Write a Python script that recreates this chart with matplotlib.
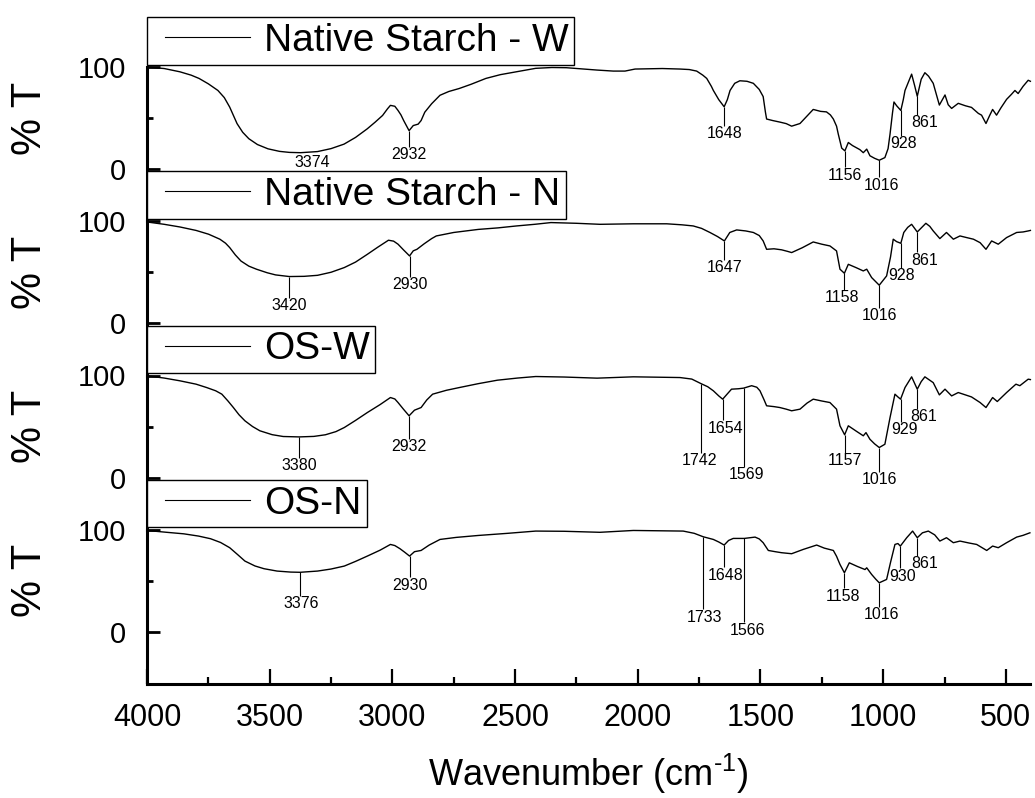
import matplotlib.pyplot as plt
import matplotlib.transforms as mtransforms
from matplotlib.legend_handler import HandlerLine2D
import numpy as np

plt.rcParams['font.family'] = ['Liberation Sans', 'DejaVu Sans']
plt.rcParams['mathtext.fontset'] = 'custom'
plt.rcParams['mathtext.rm'] = 'Liberation Sans'

# FTIR spectra: wavenumber (cm-1) and transmittance (%)
ns_w_wn = [4000, 3930, 3866, 3820, 3788, 3750, 3711, 3685, 3663, 3645, 3633, 3610, 3585, 3550,
           3507, 3460, 3420, 3374, 3305, 3250, 3197, 3150, 3103, 3070, 3040, 3020, 3008, 2990,
           2977, 2965, 2954, 2932, 2915, 2895, 2883, 2868, 2840, 2806, 2770, 2728, 2680, 2619,
           2560, 2494, 2416, 2350, 2291, 2220, 2166, 2100, 2052, 2011, 1900, 1828, 1790, 1760,
           1735, 1719, 1700, 1692, 1670, 1648, 1635, 1624, 1605, 1584, 1555, 1529, 1505, 1489,
           1480, 1475, 1450, 1421, 1395, 1373, 1339, 1310, 1285, 1255, 1231, 1215, 1203, 1190,
           1183, 1169, 1156, 1142, 1125, 1110, 1095, 1081, 1067, 1054, 1035, 1016, 993, 980,
           972, 962, 956, 945, 928, 918, 911, 896, 884, 872, 861, 845, 830, 815, 796, 771,
           748, 735, 721, 694, 665, 640, 612, 599, 581, 567, 554, 538, 520, 497, 478, 463,
           450, 430, 409, 400]
ns_w_t = [100, 98.5, 95.3, 92, 88.8, 83.5, 77, 70, 60.7, 51, 44.5, 36, 29.7, 24,
          19.8, 17.3, 16.3, 16.0, 17.1, 20, 24.4, 31, 39.3, 46, 52.5, 59, 62.4, 61.5,
          57.4, 53, 47.5, 37.6, 42.6, 44, 47.5, 55.7, 64, 72.3, 76, 78.9, 83, 88.8,
          92.5, 95.3, 98.7, 99.5, 99.3, 98, 97, 96, 96, 98, 98.5, 98, 97.5, 96,
          92, 88.8, 81, 77, 68, 61, 68, 77, 84, 86.5, 86, 84, 78, 71,
          56, 49, 47.5, 46, 44.5, 42, 44.6, 52, 58.4, 56.5, 56, 53, 49, 42,
          34.3, 20.5, 17.8, 26, 23, 21, 19, 16, 19.5, 13, 10.5, 8.6, 11.2, 20,
          34.3, 55, 65.7, 62, 57.4, 68, 77, 86, 93, 82, 71.3, 88, 94.4, 91, 84, 62.7,
          72.6, 63, 59.4, 64.4, 62, 60.4, 54.5, 52.8, 44.6, 52, 58.4, 52.8, 60, 68.3, 73, 77,
          74, 81, 87, 86]

ns_n_wn = [4000, 3930, 3866, 3800, 3749, 3703, 3680, 3663, 3640, 3617, 3585, 3554, 3510, 3476,
           3420, 3360, 3305, 3250, 3196, 3150, 3102, 3060, 3016, 2995, 2977, 2955, 2930, 2915,
           2900, 2870, 2840, 2821, 2750, 2650, 2570, 2494, 2420, 2354, 2250, 2154, 2018, 1882,
           1820, 1774, 1740, 1706, 1675, 1647, 1625, 1597, 1560, 1529, 1505, 1489, 1475, 1445,
           1414, 1390, 1373, 1330, 1285, 1250, 1217, 1190, 1176, 1158, 1142, 1110, 1081, 1067,
           1047, 1016, 986, 970, 959, 945, 928, 916, 900, 884, 861, 826, 810, 796,
           769, 742, 714, 687, 660, 632, 605, 581, 558, 531, 497, 456, 430, 409, 400]
ns_n_t = [99.3, 97, 94.4, 91, 87.3, 82.4, 78.5, 74.2, 67, 61, 56, 53, 49.5, 47.4,
          45.8, 46, 47, 50, 54.6, 60, 67.6, 74.5, 81.4, 80.5, 77.5, 72, 66, 71,
          72.5, 78, 83, 85.6, 89, 92, 93.5, 95.4, 97, 98.7, 98, 97, 97.5, 97.5,
          96.5, 95.4, 93, 89, 85, 80.7, 89, 91.5, 90.5, 89, 86, 80.7, 72.5, 73,
          72, 70.5, 69.3, 74, 79.7, 77.5, 75.8, 70.9, 53, 49, 57.8, 54.5, 51.3, 53,
          44.8, 37.3, 46.4, 65, 82.4, 80, 78.4, 89, 94, 97, 89.5, 98, 95, 90.5,
          83, 89, 82.4, 85.6, 84, 82.4, 79, 72.5, 80.7, 77.5, 84, 89, 89.5, 90.5, 91]

os_w_wn = [4000, 3930, 3866, 3800, 3757, 3720, 3695, 3670, 3648, 3625, 3601, 3570, 3540, 3490,
           3445, 3380, 3320, 3273, 3230, 3196, 3150, 3102, 3050, 3008, 2990, 2977, 2955, 2932,
           2910, 2883, 2860, 2836, 2780, 2727, 2650, 2572, 2490, 2416, 2300, 2166, 2018, 1828,
           1780, 1742, 1715, 1692, 1670, 1654, 1635, 1618, 1590, 1569, 1536, 1515, 1502, 1485,
           1475, 1445, 1421, 1395, 1373, 1339, 1310, 1285, 1250, 1217, 1190, 1176, 1157, 1142,
           1110, 1081, 1070, 1054, 1035, 1016, 993, 972, 952, 940, 929, 911, 884, 861,
           845, 830, 796, 771, 748, 721, 694, 665, 640, 605, 581, 554, 535, 497,
           459, 443, 409, 400]
os_w_t = [99.7, 97.5, 94.8, 91.5, 88.2, 85, 81.7, 75, 68.6, 61.5, 55.6, 50, 45.8, 42,
          40.2, 39.8, 40.3, 41.9, 45, 49, 56, 63.7, 71.5, 78.4, 77, 73.5, 67, 60.5,
          66, 68.6, 76, 81.7, 85.5, 88.2, 92, 95.4, 97.5, 99, 98.5, 97.4, 98.7, 98,
          96.5, 92, 89, 85, 80, 76.8, 82, 86.6, 87, 87.6, 90, 88.5, 85, 76,
          70.3, 69.5, 68.6, 67, 65.4, 67, 73, 76.8, 75, 73.5, 67, 50.7, 41.9, 50.7,
          45.5, 40.9, 44, 37.5, 33, 29.4, 32.6, 58.8, 81.7, 79, 76.8, 88.2, 98.7, 86.6,
          94, 98.7, 93, 81, 86.6, 80, 83.3, 81, 79, 73.5, 68.6, 78.4, 74.5, 83.3,
          91.5, 90, 96.4, 96]

os_n_wn = [4000, 3920, 3850, 3790, 3741, 3700, 3663, 3630, 3601, 3560, 3523, 3470, 3414, 3376,
           3305, 3250, 3196, 3150, 3102, 3050, 3008, 2990, 2969, 2950, 2930, 2910, 2883, 2850,
           2806, 2740, 2650, 2530, 2416, 2300, 2154, 2018, 1815, 1770, 1733, 1692, 1670, 1648,
           1630, 1611, 1566, 1522, 1505, 1489, 1468, 1440, 1414, 1373, 1326, 1271, 1240, 1203,
           1190, 1176, 1158, 1138, 1105, 1074, 1067, 1047, 1030, 1016, 986, 970, 952, 940,
           930, 904, 880, 861, 840, 816, 790, 769, 742, 714, 687, 650, 619, 578,
           554, 531, 497, 456, 430, 402]
os_n_t = [99.3, 97.5, 96, 93.8, 91.2, 87.5, 82.4, 75.5, 69.3, 64.5, 61.8, 59.5, 58.5, 58.3,
          59.5, 61.5, 64.4, 69, 74.2, 80, 85.6, 84.5, 81.4, 78, 74.2, 78.5, 79.7, 85,
          90.5, 92.5, 94.4, 96.5, 98.7, 98.5, 97.5, 99.3, 98.7, 96.5, 93.1, 90.5, 88, 85,
          89.5, 91.5, 91.5, 92.8, 91, 87.3, 79.7, 78.5, 77.5, 76.5, 80.7, 85, 82, 79.7,
          74, 66, 57.8, 67.6, 64, 61, 62.7, 56.2, 51.5, 48, 51.3, 68, 85.6, 86.5,
          84, 92.2, 98.7, 92.2, 97, 98.7, 95, 88.9, 92.2, 87.3, 88.9, 87, 85.6, 79.7,
          84, 82.4, 87.3, 92.8, 94.5, 97]

sample_names = ["Native Starch - W", "Native Starch - N", "OS-W", "OS-N"]

# labelled band positions (cm-1)
ns_w_peaks = [3374, 2932, 1648, 1156, 1016, 928, 861]
ns_n_peaks = [3420, 2930, 1647, 1158, 1016, 928, 861]
os_w_peaks = [3380, 2932, 1742, 1654, 1569, 1157, 1016, 929, 861]
os_n_peaks = [3376, 2930, 1733, 1648, 1566, 1158, 1016, 930, 861]

# label placement: height of label centre (in %T) and sideways shift (cm-1)
ns_w_label_y = [6.2, 13.9, 34.7, -6, -15.8, 24.8, 45.5]
ns_w_label_dx = [-47, 0, 0, 0, -10, -10, -30]
ns_n_label_y = [17, 38.2, 54.6, 25.2, 7.2, 47, 62]
ns_n_label_dx = [0, 0, 0, 10, 0, -5, -30]
os_w_label_y = [12.1, 30.4, 16.3, 48.4, 2.6, 16.3, -2.3, 47.4, 59.5]
os_w_label_dx = [0, 0, 6, -13, -13, 0, 0, -16, -27]
os_n_label_y = [27.5, 45.8, 14.4, 55.6, 1.7, 35, 17, 54.6, 66.7]
os_n_label_dx = [-3, 0, -3, -7, -14, 6, -10, -10, -30]


def draw_panel(ax, wn, t, name, peaks, label_y, label_dx):
    line, = ax.plot(wn, t, color='black', lw=1.0, label=name, clip_on=False)

    wn_up = np.array(wn)[::-1]
    t_up = np.array(t)[::-1]
    for p, ly, dx in zip(peaks, label_y, label_dx):
        top = np.interp(p, wn_up, t_up)
        tip = ly + 7.5
        if top - tip > 3:
            ax.vlines(p, tip, top, color='black', lw=0.8)
        ax.text(p + dx, ly, str(p), ha='center', va='center', fontsize=11.5,
                clip_on=False)

    ax.set_xlim(4000, 400)
    ax.set_ylim(-51.2, 100)
    ax.set_facecolor('none')
    for side in ('top', 'right', 'bottom'):
        ax.spines[side].set_visible(False)
    ax.spines['left'].set_linewidth(2.2)

    ax.set_yticks([0, 100])
    ax.set_yticks([50], minor=True)
    ax.tick_params(axis='y', which='major', direction='in', length=9.5, width=2,
                   labelsize=21, pad=15)
    ax.tick_params(axis='y', which='minor', direction='in', length=4.5, width=2)
    ax.tick_params(axis='x', which='both', bottom=False, labelbottom=False)

    ax.set_ylabel("% T", fontsize=30, va='center')
    trans = mtransforms.blended_transform_factory(ax.transAxes, ax.transData)
    ax.yaxis.set_label_coords(-0.132, 50, transform=trans)

    # legend sample line is inset from both ends of its slot
    leg = ax.legend(handler_map={line: HandlerLine2D(numpoints=2, marker_pad=0.3)},
                    loc='lower left', bbox_to_anchor=(0, 1.015), borderaxespad=0,
                    fontsize=28, handlelength=2.8, handletextpad=0.05, borderpad=0.15,
                    fancybox=False, framealpha=1, edgecolor='black')
    leg.get_frame().set_linewidth(1.0)
    for lh in leg.get_lines():
        lh.set_linewidth(0.8)


def main():
    fig = plt.figure(figsize=(10.35, 7.98), dpi=100)

    spectra = [(ns_w_wn, ns_w_t), (ns_n_wn, ns_n_t), (os_w_wn, os_w_t), (os_n_wn, os_n_t)]
    peak_sets = [ns_w_peaks, ns_n_peaks, os_w_peaks, os_n_peaks]
    label_ys = [ns_w_label_y, ns_n_label_y, os_w_label_y, os_n_label_y]
    label_dxs = [ns_w_label_dx, ns_n_label_dx, os_w_label_dx, os_n_label_dx]

    left, width = 147 / 1035, 883.4 / 1035
    top_px, panel_px = 67, 154.25
    axes = []
    for k in range(4):
        bottom = 1 - (top_px + (k + 1) * panel_px) / 798
        ax = fig.add_axes([left, bottom, width, panel_px / 798])
        wn, t = spectra[k]
        draw_panel(ax, wn, t, sample_names[k], peak_sets[k], label_ys[k], label_dxs[k])
        axes.append(ax)

    ax = axes[-1]
    ax.spines['bottom'].set_visible(True)
    ax.spines['bottom'].set_linewidth(2.2)
    ax.set_xticks(np.arange(4000, 399, -500))
    ax.set_xticks(np.arange(3750, 399, -500), minor=True)
    ax.tick_params(axis='x', which='both', bottom=True, labelbottom=True, direction='in')
    ax.tick_params(axis='x', which='major', length=10.5, width=1.6, labelsize=22, pad=14)
    ax.tick_params(axis='x', which='minor', length=5, width=1.6)
    ax.set_xlabel(r"Wavenumber (cm$^{\text{-1}}$)", fontsize=26, labelpad=13)

    fig.savefig("out.png", dpi=100)


if __name__ == '__main__':
    main()
